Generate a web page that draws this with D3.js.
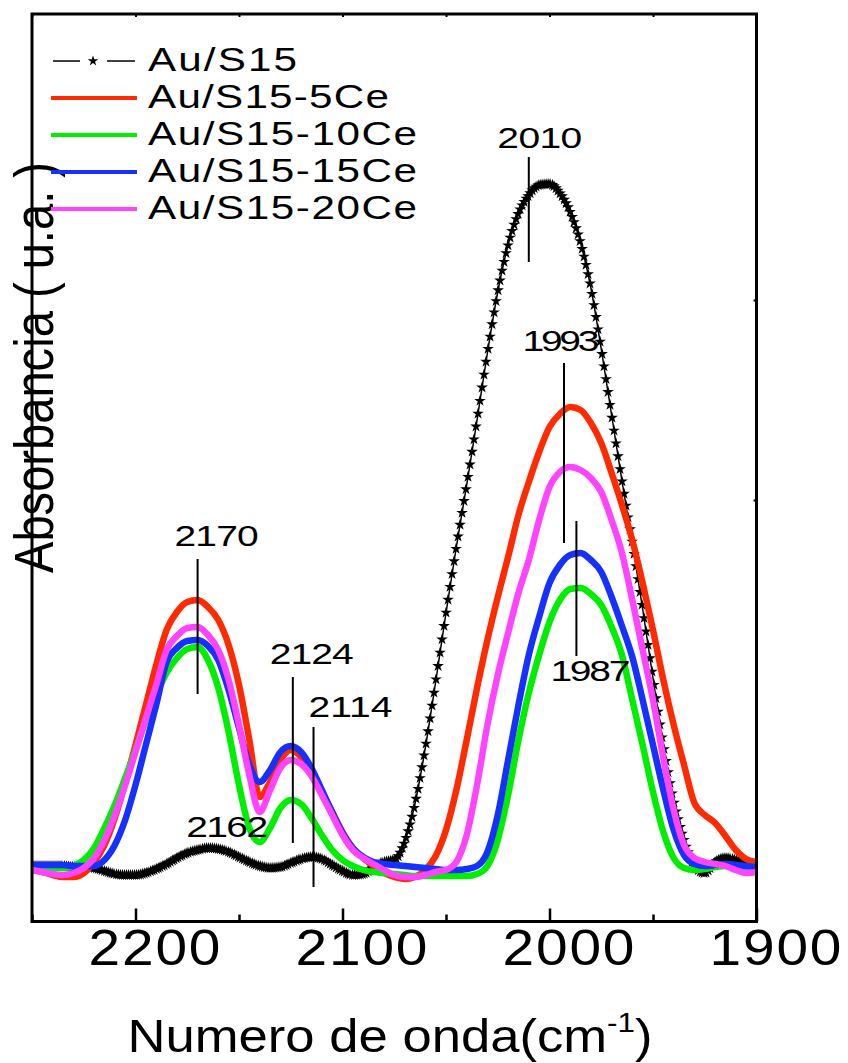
<!DOCTYPE html>
<html>
<head>
<meta charset="utf-8">
<script src="https://cdn.jsdelivr.net/npm/d3@7"></script>
<style>
  html, body { margin: 0; padding: 0; background: #fff; }
  svg { display: block; }
  text { font-family: "Liberation Sans", Arial, sans-serif; fill: #000; }
</style>
</head>
<body>
<svg id="chart" width="848" height="1063"></svg>
<script>
// ---- data: DRIFT spectra of adsorbed CO, absorbance (a.u.) vs wavenumber (cm-1)
const wavenumbers = [
  2250, 2245, 2240, 2235, 2230, 2225, 2220, 2215, 2210, 2205,
  2200, 2195, 2190, 2185, 2180, 2175, 2170, 2165, 2160, 2155,
  2150, 2145, 2140, 2135, 2130, 2125, 2120, 2115, 2110, 2105,
  2100, 2095, 2090, 2085, 2080, 2075, 2070, 2065, 2060, 2055,
  2050, 2045, 2040, 2035, 2030, 2025, 2020, 2015, 2010, 2005,
  2000, 1995, 1990, 1985, 1980, 1975, 1970, 1965, 1960, 1955,
  1950, 1945, 1940, 1935, 1930, 1925, 1920, 1915, 1910, 1905,
  1900
];

const auS15 = [
  0.034, 0.034, 0.034, 0.034, 0.033, 0.033, 0.032, 0.029, 0.026, 0.025,
  0.025, 0.027, 0.031, 0.036, 0.042, 0.047, 0.050, 0.052, 0.051, 0.048,
  0.043, 0.038, 0.034, 0.032, 0.033, 0.037, 0.041, 0.043, 0.041, 0.035,
  0.029, 0.025, 0.026, 0.033, 0.038, 0.040, 0.058, 0.096, 0.152, 0.218,
  0.287, 0.353, 0.415, 0.480, 0.547, 0.608, 0.655, 0.687, 0.705, 0.715,
  0.716, 0.707, 0.688, 0.657, 0.612, 0.551, 0.485, 0.419, 0.357, 0.291,
  0.222, 0.155, 0.099, 0.060, 0.034, 0.027, 0.038, 0.042, 0.040, 0.037,
  0.035
];

const auS15_5Ce = [
  0.030, 0.028, 0.025, 0.023, 0.023, 0.027, 0.038, 0.055, 0.082, 0.117,
  0.155, 0.195, 0.235, 0.270, 0.288, 0.298, 0.300, 0.293, 0.280, 0.255,
  0.215, 0.160, 0.103, 0.118, 0.140, 0.150, 0.143, 0.128, 0.108, 0.088,
  0.068, 0.052, 0.042, 0.034, 0.027, 0.023, 0.021, 0.023, 0.030, 0.044,
  0.070, 0.110, 0.160, 0.212, 0.260, 0.303, 0.343, 0.385, 0.418, 0.448,
  0.473, 0.486, 0.493, 0.490, 0.477, 0.457, 0.427, 0.395, 0.360, 0.317,
  0.270, 0.220, 0.175, 0.135, 0.097, 0.085, 0.077, 0.064, 0.050, 0.041,
  0.038
];

const auS15_10Ce = [
  0.033, 0.032, 0.032, 0.032, 0.034, 0.040, 0.052, 0.072, 0.095, 0.122,
  0.150, 0.180, 0.205, 0.227, 0.242, 0.251, 0.253, 0.240, 0.212, 0.168,
  0.115, 0.072, 0.058, 0.072, 0.092, 0.100, 0.096, 0.082, 0.065, 0.050,
  0.040, 0.034, 0.030, 0.028, 0.027, 0.026, 0.025, 0.024, 0.024, 0.024,
  0.024, 0.024, 0.024, 0.026, 0.034, 0.060, 0.105, 0.160, 0.207, 0.245,
  0.278, 0.300, 0.311, 0.312, 0.306, 0.295, 0.273, 0.245, 0.200, 0.155,
  0.108, 0.068, 0.042, 0.032, 0.030, 0.031, 0.033, 0.034, 0.034, 0.033,
  0.033
];

const auS15_15Ce = [
  0.035, 0.035, 0.035, 0.035, 0.034, 0.034, 0.034, 0.040, 0.055, 0.080,
  0.115, 0.155, 0.195, 0.238, 0.252, 0.259, 0.260, 0.254, 0.240, 0.210,
  0.172, 0.135, 0.118, 0.130, 0.148, 0.154, 0.148, 0.132, 0.110, 0.088,
  0.067, 0.052, 0.043, 0.038, 0.036, 0.035, 0.034, 0.033, 0.032, 0.031,
  0.030, 0.030, 0.031, 0.034, 0.048, 0.085, 0.140, 0.195, 0.245, 0.283,
  0.317, 0.335, 0.345, 0.347, 0.340, 0.328, 0.303, 0.274, 0.243, 0.200,
  0.155, 0.110, 0.070, 0.045, 0.036, 0.034, 0.035, 0.036, 0.035, 0.034,
  0.033
];

const auS15_20Ce = [
  0.030, 0.028, 0.026, 0.025, 0.027, 0.032, 0.042, 0.060, 0.085, 0.115,
  0.148, 0.182, 0.215, 0.250, 0.264, 0.272, 0.273, 0.265, 0.250, 0.220,
  0.175, 0.125, 0.088, 0.110, 0.132, 0.140, 0.136, 0.124, 0.105, 0.085,
  0.065, 0.050, 0.042, 0.036, 0.030, 0.025, 0.023, 0.023, 0.025, 0.028,
  0.030, 0.038, 0.065, 0.115, 0.175, 0.225, 0.267, 0.307, 0.340, 0.380,
  0.413, 0.428, 0.433, 0.430, 0.422, 0.408, 0.380, 0.347, 0.300, 0.250,
  0.200, 0.142, 0.090, 0.055, 0.042, 0.038, 0.036, 0.034, 0.030, 0.027,
  0.028
];

const seriesNames = ["Au/S15", "Au/S15-5Ce", "Au/S15-10Ce", "Au/S15-15Ce", "Au/S15-20Ce"];
const seriesValues = [auS15, auS15_5Ce, auS15_10Ce, auS15_15Ce, auS15_20Ce];

const xTickValues = [2200, 2100, 2000, 1900];
const xTickLabels = ["2200", "2100", "2000", "1900"];
const xMinorTickValues = [2250, 2150, 2050, 1950];
const yTickValues = [0.4, 0.6];

// band positions marked on the spectra
const peakPositions = [2170, 2124, 2114, 2162, 2010, 1993, 1987];
const peakLabels = ["2170", "2124", "2114", "2162", "2010", "1993", "1987"];

// ---- layout and styling
const plot = { left: 32, right: 756.5, top: 14, bottom: 921.5 };
const seriesColors = ["#000000", "#ff2a00", "#00ee00", "#1530ff", "#ff44ff"];

// marker line for each band: top and bottom of the tick (absorbance units),
// label baseline (absorbance units), label centre shift (px), label width (px)
const peakLayout = {
  "2170": { top: 0.341, bottom: 0.206, label: 0.354, shift: 19, width: 84 },
  "2124": { top: 0.223, bottom: 0.057, label: 0.236, shift: 19, width: 84 },
  "2114": { top: 0.173, bottom: 0.013, label: 0.183, shift: 37, width: 84 },
  "2162": { top: null,  bottom: null,  label: 0.063, shift: 13, width: 82 },
  "2010": { top: 0.743, bottom: 0.638, label: 0.752, shift: 11, width: 85 },
  "1993": { top: 0.537, bottom: 0.357, label: 0.549, shift: -3, width: 77 },
  "1987": { top: 0.379, bottom: 0.244, label: 0.219, shift: 14, width: 80 }
};

const svg = d3.select("#chart");

const x = d3.scaleLinear().domain([2250, 1900]).range([plot.left, plot.right]);
const y = d3.scaleLinear().domain([-0.0215, 0.886]).range([plot.bottom, plot.top]);

// text helper: horizontally widened glyphs with a fixed overall width
function stretchedText(parent, str, px, py, size, width, stretch) {
  const t = parent.append("text")
    .attr("transform", `translate(${px},${py}) scale(${stretch},1)`)
    .attr("font-size", size)
    .text(str);
  if (width) {
    t.attr("textLength", width / stretch).attr("lengthAdjust", "spacing");
  }
  return t;
}

svg.append("defs").append("clipPath").attr("id", "plot-clip")
  .append("rect")
  .attr("x", plot.left).attr("y", plot.top)
  .attr("width", plot.right - plot.left).attr("height", plot.bottom - plot.top);

const gPlot = svg.append("g").attr("clip-path", "url(#plot-clip)");

const line = d3.line()
  .x((d, i) => x(wavenumbers[i]))
  .y(d => y(d))
  .curve(d3.curveMonotoneX);

// reference sample: thin black trace covered by star markers
const refPath = gPlot.append("path")
  .datum(auS15)
  .attr("d", line)
  .attr("fill", "none")
  .attr("stroke", "#000")
  .attr("stroke-width", 1.5);

// star markers stamped along the trace at an even wavenumber spacing
(function stampStars() {
  const node = refPath.node();
  const len = node.getTotalLength();
  const step = 2.0;
  let next = plot.left;
  const stars = [];
  for (let s = 0; s <= len; s += 0.5) {
    const p = node.getPointAtLength(s);
    if (p.x >= next) { stars.push(p); next += step; }
  }
  const star = d3.symbol().type(d3.symbolStar).size(42);
  gPlot.append("g").selectAll("path")
    .data(stars)
    .join("path")
    .attr("d", star)
    .attr("transform", d => `translate(${d.x},${d.y})`)
    .attr("fill", "#000");
})();

// Ce-doped samples
[1, 2, 3, 4].forEach(k => {
  gPlot.append("path")
    .datum(seriesValues[k])
    .attr("d", line)
    .attr("fill", "none")
    .attr("stroke", seriesColors[k])
    .attr("stroke-width", 6.5)
    .attr("stroke-linejoin", "round")
    .attr("stroke-linecap", "round");
});

// frame
svg.append("rect")
  .attr("x", plot.left).attr("y", plot.top)
  .attr("width", plot.right - plot.left).attr("height", plot.bottom - plot.top)
  .attr("fill", "none").attr("stroke", "#000").attr("stroke-width", 3);

// bottom axis: ticks point inwards
const axisBottom = d3.axisBottom(x)
  .tickValues(xTickValues)
  .tickSizeInner(-13).tickSizeOuter(0)
  .tickFormat("");
const gx = svg.append("g").attr("transform", `translate(0,${plot.bottom})`).call(axisBottom);
gx.select(".domain").remove();
gx.selectAll(".tick line").attr("stroke", "#000").attr("stroke-width", 2.5);

const axisBottomMinor = d3.axisBottom(x)
  .tickValues(xMinorTickValues)
  .tickSizeInner(-7).tickSizeOuter(0)
  .tickFormat("");
const gxm = svg.append("g").attr("transform", `translate(0,${plot.bottom})`).call(axisBottomMinor);
gxm.select(".domain").remove();
gxm.selectAll(".tick line").attr("stroke", "#000").attr("stroke-width", 2.5);

// small ticks along the top and right edges
const axisTop = d3.axisTop(x)
  .tickValues(xTickValues.concat(xMinorTickValues))
  .tickSizeInner(-3).tickSizeOuter(0)
  .tickFormat("");
const gxt = svg.append("g").attr("transform", `translate(0,${plot.top})`).call(axisTop);
gxt.select(".domain").remove();
gxt.selectAll(".tick line").attr("stroke", "#000").attr("stroke-width", 2);

const axisRight = d3.axisRight(y)
  .tickValues(yTickValues)
  .tickSizeInner(-3).tickSizeOuter(0)
  .tickFormat("");
const gyr = svg.append("g").attr("transform", `translate(${plot.right},0)`).call(axisRight);
gyr.select(".domain").remove();
gyr.selectAll(".tick line").attr("stroke", "#000").attr("stroke-width", 2);

// tick labels
xTickValues.forEach((v, i) => {
  stretchedText(svg, xTickLabels[i], x(v) - 47, 965, 49, 132, 1.16);
});

// x-axis title, set as one run with a raised exponent
(function xTitle() {
  const t = svg.append("text")
    .attr("transform", "translate(390,1052) scale(1.12,1)")
    .attr("font-size", 47)
    .attr("text-anchor", "middle");
  t.append("tspan").text("Numero de onda(cm");
  t.append("tspan").attr("dy", -20).attr("font-size", 28).text("-1");
  t.append("tspan").attr("dy", 20).text(")");
})();

svg.append("text")
  .attr("transform", "translate(53,367.5) scale(1.17,1) rotate(-90)")
  .attr("font-size", 48)
  .attr("text-anchor", "middle")
  .attr("textLength", 411)
  .attr("lengthAdjust", "spacingAndGlyphs")
  .text("Absorbancia ( u.a. )");

// band markers
peakPositions.forEach((w, i) => {
  const lay = peakLayout[peakLabels[i]];
  if (lay.top !== null) {
    svg.append("line")
      .attr("x1", x(w)).attr("x2", x(w))
      .attr("y1", y(lay.top)).attr("y2", y(lay.bottom))
      .attr("stroke", "#000").attr("stroke-width", 2);
  }
  stretchedText(svg, peakLabels[i], x(w) + lay.shift - lay.width / 2, y(lay.label), 30, lay.width, 1.3);
});

// legend
const legend = svg.append("g");
const legendRows = [61, 98, 135, 172, 209];
const legendWidths = [149, 241, 269, 269, 269];
seriesNames.forEach((name, i) => {
  const ly = legendRows[i];
  if (i === 0) {
    legend.append("line").attr("x1", 53).attr("x2", 80).attr("y1", ly).attr("y2", ly)
      .attr("stroke", "#000").attr("stroke-width", 1.5);
    legend.append("line").attr("x1", 107).attr("x2", 135).attr("y1", ly).attr("y2", ly)
      .attr("stroke", "#000").attr("stroke-width", 1.5);
    legend.append("path")
      .attr("d", d3.symbol().type(d3.symbolStar).size(34)())
      .attr("transform", `translate(93,${ly})`)
      .attr("fill", "#000");
  } else {
    legend.append("line").attr("x1", 51).attr("x2", 137).attr("y1", ly).attr("y2", ly)
      .attr("stroke", seriesColors[i]).attr("stroke-width", 4);
  }
  stretchedText(legend, name, 148, ly + 10, 33, legendWidths[i], 1.28);
});
</script>
</body>
</html>
